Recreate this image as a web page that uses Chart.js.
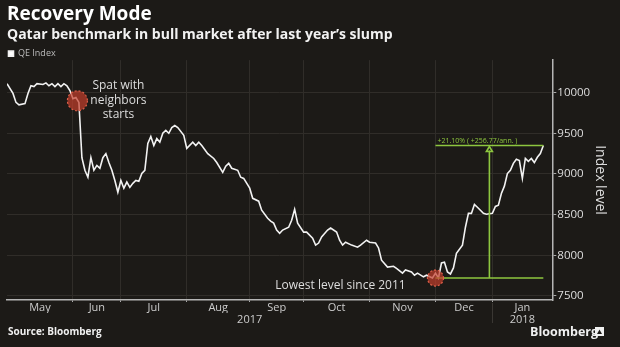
<!DOCTYPE html>
<html>
<head>
<meta charset="utf-8">
<script src="https://cdn.jsdelivr.net/npm/chart.js@4.4.1/dist/chart.umd.min.js"></script>
<style>
  html, body { margin: 0; padding: 0; background: #1c1a17; }
  #wrap { width: 620px; height: 347px; }
</style>
</head>
<body>
<div id="wrap"><canvas id="qeChart"></canvas></div>
<script>
// QE index, one point per trading session counted from 1 May 2017
var sessions = [0, 2, 3, 4, 6, 7, 8, 9, 10, 12, 13, 14, 15, 16, 17, 18, 19, 20, 21, 22, 23, 24,
  25, 26, 27, 28, 29, 30, 31, 32, 33, 34, 35, 36, 37, 38, 39, 40, 41, 42, 43, 44, 45, 46, 47, 48,
  49, 50, 51, 52, 53, 54, 55, 56, 57, 59, 60, 62, 63, 64, 65, 67, 69, 70, 72, 73, 74, 75, 77, 78,
  79, 81, 82, 84, 85, 87, 88, 89, 90, 91, 92, 94, 95, 96, 97, 99, 100, 102, 103, 104, 105, 107,
  108, 110, 111, 112, 113, 115, 117, 118, 120, 121, 123, 124, 125, 127, 129, 130, 132, 133, 135,
  136, 137, 139, 140, 142, 143, 144, 145, 146, 147, 148, 149, 150, 152, 153, 154, 155, 156, 157,
  159, 160, 162, 163, 164, 165, 166, 167, 168, 169, 170, 171, 172, 173, 174, 175, 176, 177, 178, 179];
var qeIndex = [10110, 9990, 9880, 9850, 9865, 9990, 10085, 10075, 10110, 10100, 10120, 10085, 10110,
  10075, 10110, 10075, 10110, 10085, 10025, 9925, 9940, 9880,
  9200, 9045, 8960, 9200, 9045, 9105, 9070, 9200, 9250, 9140, 9045, 8920, 8775, 8920, 8825, 8900,
  8835, 8885, 8920, 8910, 9005, 9045, 9375, 9460,
  9350, 9435, 9390, 9500, 9535, 9500, 9570, 9595, 9570, 9475, 9315, 9390, 9350, 9390, 9350, 9250,
  9190, 9140, 9020, 9095, 9130, 9070, 9045, 8960,
  8945, 8825, 8700, 8665, 8555, 8455, 8420, 8395, 8310, 8270, 8310, 8345, 8430, 8565, 8395, 8285,
  8285, 8210, 8125, 8150, 8225, 8310,
  8335, 8285, 8185, 8125, 8160, 8125, 8100, 8125, 8185, 8160, 8150, 8090, 7940, 7855, 7865, 7840,
  7780, 7820, 7795,
  7755, 7780, 7735, 7755, 7720, 7780, 7720, 7905, 7915, 7795, 7770, 7845, 8025, 8125, 8345, 8515,
  8515, 8625, 8590,
  8515, 8505, 8515, 8600, 8615, 8760, 8850, 9005, 9045, 9130, 9180, 9165, 8945, 9190, 9155, 9190,
  9140, 9205, 9250, 9350];

// first session of each month (last entry = end of axis)
var monthStarts = [0, 22, 38, 60, 81, 99, 121, 143, 162, 182];
var monthNames = ['May', 'Jun', 'Jul', 'Aug', 'Sep', 'Oct', 'Nov', 'Dec', 'Jan'];
var yearCentres = [81, 172];
var yearNames = ['2017', '2018'];
var yTicks = [7500, 8000, 8500, 9000, 9500, 10000];

var spatSession = 23.5;
var spatLevel = 9900;
var lowSession = 143;
var measureSession = 161;
var measureText = '+21.10% ( +256.77/ann. )';

var FONT = '"Open Sans", "DejaVu Sans", sans-serif';

var points = sessions.map(function (s, i) { return { x: s, y: qeIndex[i] }; });
var monthMids = monthNames.map(function (m, i) { return (monthStarts[i] + monthStarts[i + 1]) / 2; });

var annotate = {
  id: 'annotate',
  afterDatasetsDraw: function (chart) {
    var c = chart.ctx, xs = chart.scales.x, ys = chart.scales.y;
    var low = Math.min.apply(null, qeIndex);
    var last = qeIndex[qeIndex.length - 1];
    var lastSession = sessions[sessions.length - 1];
    c.save();

    // year separator below the axis
    var sepX = Math.round(xs.getPixelForValue(monthStarts[8])) + 0.5;
    c.strokeStyle = '#3a3733';
    c.lineWidth = 1;
    c.beginPath();
    c.moveTo(sepX, chart.chartArea.bottom + 3);
    c.lineTo(sepX, chart.chartArea.bottom + 23);
    c.stroke();

    // measurement from the low to the latest close
    var gx0 = xs.getPixelForValue(lowSession), gx1 = xs.getPixelForValue(lastSession);
    var gyLow = ys.getPixelForValue(low), gyHigh = ys.getPixelForValue(last);
    var gxm = xs.getPixelForValue(measureSession);
    c.strokeStyle = '#8dc63f';
    c.lineWidth = 1.6;
    c.beginPath();
    c.moveTo(gx0, gyLow); c.lineTo(gx1, gyLow);
    c.moveTo(gx0, gyHigh); c.lineTo(gx1, gyHigh);
    c.moveTo(gxm, gyLow); c.lineTo(gxm, gyHigh + 5);
    c.stroke();
    c.beginPath();
    c.moveTo(gxm, gyHigh + 1); c.lineTo(gxm - 3, gyHigh + 6); c.lineTo(gxm + 3, gyHigh + 6); c.closePath();
    c.stroke();
    c.fillStyle = '#8dc63f';
    c.font = '7px ' + FONT;
    c.textAlign = 'left';
    c.textBaseline = 'bottom';
    c.fillText(measureText, gx0 + 2, gyHigh - 1);

    // red markers
    function marker(px, py, r) {
      c.beginPath();
      c.arc(px, py, r, 0, Math.PI * 2);
      c.fillStyle = 'rgba(196, 62, 44, 0.7)';
      c.fill();
      c.setLineDash([2, 2]);
      c.strokeStyle = '#e0604a';
      c.lineWidth = 1.2;
      c.stroke();
      c.setLineDash([]);
    }
    var sx = xs.getPixelForValue(spatSession), sy = ys.getPixelForValue(spatLevel);
    marker(sx, sy, 10);
    var lx = xs.getPixelForValue(lowSession), ly = ys.getPixelForValue(low);
    marker(lx, ly, 8);

    c.fillStyle = '#dddddd';
    c.font = '12px ' + FONT;
    c.textAlign = 'center';
    c.textBaseline = 'middle';
    c.fillText('Spat with', sx + 41, sy - 15);
    c.fillText('neighbors', sx + 41, sy);
    c.fillText('starts', sx + 41, sy + 14);
    c.fillText('Lowest level since 2011', lx - 95, ly + 8);

    // footer
    c.textAlign = 'left';
    c.textBaseline = 'middle';
    c.fillStyle = '#f0f0f0';
    c.font = 'bold 10px ' + FONT;
    c.fillText('Source: Bloomberg', 8, 332);
    c.font = 'bold 12.5px ' + FONT;
    c.fillText('Bloomberg', 530, 332);
    c.fillRect(595, 327, 9, 9);
    c.fillStyle = '#1c1a17';
    c.beginPath();
    c.moveTo(597, 334); c.lineTo(599.5, 329.5); c.lineTo(602, 334); c.closePath();
    c.fill();
    c.restore();
  }
};

new Chart(document.getElementById('qeChart'), {
  type: 'line',
  data: {
    datasets: [{
      label: 'QE Index',
      data: points,
      borderColor: '#f2f2f2',
      backgroundColor: '#ffffff',
      borderWidth: 1.6,
      pointRadius: 0,
      tension: 0
    }]
  },
  options: {
    responsive: true,
    maintainAspectRatio: false,
    animation: false,
    layout: { padding: { left: 7, right: 12, top: 0, bottom: 21 } },
    plugins: {
      title: {
        display: true,
        text: 'Recovery Mode',
        align: 'start',
        color: '#ffffff',
        font: { family: FONT, size: 19, weight: 'bold' },
        padding: { top: 3.5, bottom: 0 }
      },
      subtitle: {
        display: true,
        text: 'Qatar benchmark in bull market after last year\u2019s slump',
        align: 'start',
        color: '#f2f2f2',
        font: { family: FONT, size: 14, weight: 'bold' },
        padding: { top: 0, bottom: 4.5 }
      },
      legend: {
        align: 'start',
        maxHeight: 12.5,
        labels: {
          boxWidth: 5,
          boxHeight: 5,
          color: '#bbbbbb',
          font: { family: FONT, size: 9 },
          padding: 1.5
        }
      },
      tooltip: { enabled: false }
    },
    scales: {
      x: {
        type: 'linear',
        position: 'bottom',
        weight: 0,
        min: 0,
        max: 182,
        afterBuildTicks: function (axis) {
          axis.ticks = monthStarts.slice(1, 9).map(function (v) { return { value: v }; });
        },
        ticks: { display: false },
        grid: { color: '#302d29', tickColor: '#aaaaaa', tickLength: 2 },
        border: { color: '#b5b5b5', width: 1.5 }
      },
      xMonth: {
        type: 'linear',
        position: 'bottom',
        weight: 1,
        min: 0,
        max: 182,
        afterBuildTicks: function (axis) {
          axis.ticks = monthMids.map(function (v) { return { value: v }; });
        },
        ticks: {
          autoSkip: false,
          maxRotation: 0,
          padding: 0,
          color: '#cccccc',
          font: { family: FONT, size: 11, lineHeight: 1 },
          callback: function (v, i) { return monthNames[i]; }
        },
        grid: { display: false, drawTicks: false },
        border: { display: false }
      },
      xYear: {
        type: 'linear',
        position: 'bottom',
        weight: 2,
        min: 0,
        max: 182,
        afterBuildTicks: function (axis) {
          axis.ticks = yearCentres.map(function (v) { return { value: v }; });
        },
        ticks: {
          autoSkip: false,
          maxRotation: 0,
          padding: 1,
          color: '#cccccc',
          font: { family: FONT, size: 11, lineHeight: 1 },
          callback: function (v, i) { return yearNames[i]; }
        },
        grid: { display: false, drawTicks: false },
        border: { display: false }
      },
      y: {
        position: 'right',
        min: 7450,
        max: 10400,
        afterBuildTicks: function (axis) {
          axis.ticks = yTicks.map(function (v) { return { value: v }; });
        },
        ticks: {
          color: '#dddddd',
          padding: 1,
          font: { family: FONT, size: 11.5 },
          callback: function (v) { return String(v); }
        },
        grid: { color: '#302d29', tickColor: '#aaaaaa', tickLength: 4 },
        border: { color: '#b5b5b5', width: 1.5 },
        title: {
          display: true,
          text: 'Index level',
          color: '#dddddd',
          font: { family: FONT, size: 14 },
          padding: { top: 0, bottom: 0 }
        }
      }
    }
  },
  plugins: [annotate]
});
</script>
</body>
</html>
